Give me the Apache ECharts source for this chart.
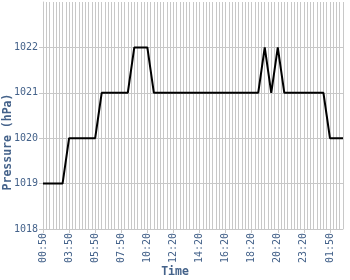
<!DOCTYPE html>
<html>
<head>
<meta charset="utf-8">
<script src="https://cdn.jsdelivr.net/npm/echarts@6/dist/echarts.min.js"></script>
<style>
html,body{margin:0;padding:0;background:#fff;}
#chart{width:350px;height:280px;}
</style>
</head>
<body>
<div id="chart"></div>
<script>
var times = [
  '00:50','01:15','01:40','02:05','02:25','02:45','03:05','03:30',
  '03:50','04:05','04:20','04:35','04:50','05:05','05:20','05:35',
  '05:50','06:05','06:20','06:35','06:50','07:05','07:20','07:35',
  '07:50','08:10','08:30','08:50','09:10','09:30','09:50','10:05',
  '10:20','10:35','10:50','11:05','11:20','11:35','11:50','12:05',
  '12:20','12:35','12:50','13:05','13:20','13:35','13:50','14:05',
  '14:20','14:35','14:50','15:05','15:20','15:35','15:50','16:05',
  '16:20','16:35','16:50','17:05','17:20','17:35','17:50','18:05',
  '18:20','18:35','18:50','19:05','19:20','19:35','19:50','20:05',
  '20:20','20:50','21:20','21:40','22:00','22:20','22:40','23:00',
  '23:20','23:40','00:00','00:20','00:40','01:00','01:20','01:35',
  '01:50','02:00','02:20','02:35','02:50'
];
var pressure = [
  1019,1019,1019,1019,1019,1019,1019,1019.5,
  1020,1020,1020,1020,1020,1020,1020,1020,
  1020,1020.5,1021,1021,1021,1021,1021,1021,
  1021,1021,1021,1021.5,1022,1022,1022,1022,
  1022,1021.5,1021,1021,1021,1021,1021,1021,
  1021,1021,1021,1021,1021,1021,1021,1021,
  1021,1021,1021,1021,1021,1021,1021,1021,
  1021,1021,1021,1021,1021,1021,1021,1021,
  1021,1021,1021,1021.5,1022,1021.5,1021,1021.5,
  1022,1021.5,1021,1021,1021,1021,1021,1021,
  1021,1021,1021,1021,1021,1021,1021,1020.5,
  1020,1020,1020,1020,1020
];
var yTicks = [1018, 1019, 1020, 1021, 1022, 1023];
var xName = 'Time';
var yName = 'Pressure (hPa)';

var txtColor = '#44628a';
var gridColor = '#c8c8c8';
var font = 'DejaVu Sans Mono';

var chart = echarts.init(document.getElementById('chart'));
chart.setOption({
  animation: false,
  backgroundColor: '#fff',
  grid: {left: 43, right: 7, top: 2, bottom: 51},
  xAxis: {
    type: 'category',
    data: times,
    boundaryGap: false,
    axisLine: {show: true, lineStyle: {color: gridColor, width: 1}},
    axisTick: {show: true, interval: 7, length: 4, lineStyle: {color: gridColor}},
    axisLabel: {interval: 7, rotate: 90, margin: 4, color: txtColor, fontFamily: font, fontSize: 10},
    splitLine: {show: true, interval: 0, lineStyle: {color: gridColor, width: 1}}
  },
  yAxis: {
    type: 'value',
    min: yTicks[0],
    max: yTicks[yTicks.length - 1],
    interval: 1,
    axisLine: {show: true, lineStyle: {color: gridColor, width: 1}},
    axisTick: {show: true, length: 4, lineStyle: {color: gridColor}},
    axisLabel: {
      margin: 5, color: txtColor, fontFamily: font, fontSize: 10,
      showMaxLabel: false,
      formatter: function (v) { return String(v); }
    },
    splitLine: {show: true, lineStyle: {color: [gridColor, gridColor, gridColor, gridColor, gridColor, 'rgba(0,0,0,0)'], width: 1}}
  },
  graphic: [
    {type: 'text', x: 8, y: 142, rotation: Math.PI / 2,
     style: {text: yName, fill: txtColor, font: 'bold 11.5px "DejaVu Sans Mono"', textAlign: 'center', textVerticalAlign: 'middle'}},
    {type: 'text', x: 175, y: 272,
     style: {text: xName, fill: txtColor, font: 'bold 11.5px "DejaVu Sans Mono"', textAlign: 'center', textVerticalAlign: 'middle'}}
  ],
  series: [{
    type: 'line',
    data: pressure,
    showSymbol: false,
    symbol: 'none',
    lineStyle: {color: '#000', width: 2},
    z: 5
  }]
});
</script>
</body>
</html>
